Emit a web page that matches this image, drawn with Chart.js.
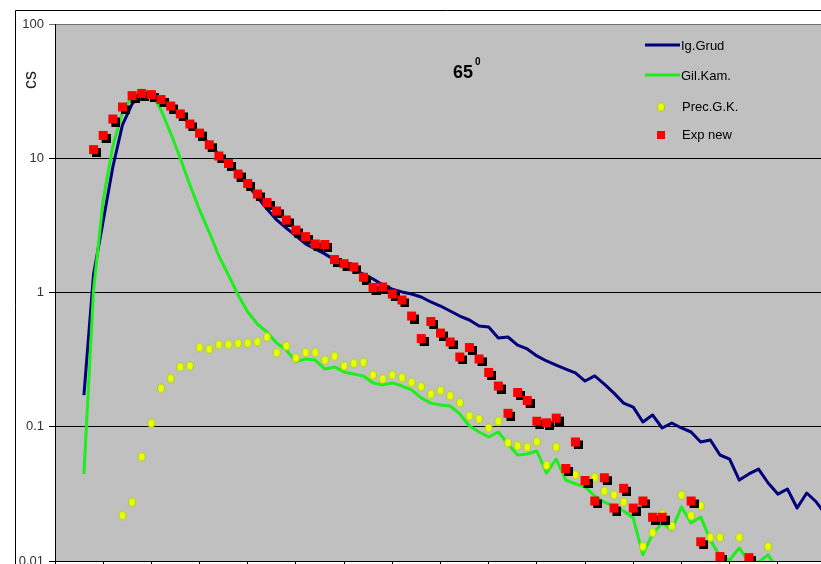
<!DOCTYPE html>
<html>
<head>
<meta charset="utf-8">
<title>cs 65</title>
<script src="https://cdn.jsdelivr.net/npm/chart.js@4.4.1/dist/chart.umd.min.js"></script>
<style>
  html, body { margin: 0; padding: 0; background: #fff; overflow: hidden; }
  .wrap { position: absolute; left: 0; top: 0; width: 880px; height: 600px; }
</style>
</head>
<body>
<div class="wrap"><canvas id="csChart" width="880" height="600"></canvas></div>
<script>
// calculated curves share one x grid
var energy = [0.6, 0.8, 1.0, 1.2, 1.4, 1.6, 1.8, 2.0, 2.2, 2.4,
              2.6, 2.8, 3.0, 3.2, 3.4, 3.6, 3.8, 4.0, 4.2, 4.4,
              4.6, 4.8, 5.0, 5.2, 5.4, 5.6, 5.8, 6.0, 6.2, 6.4,
              6.6, 6.8, 7.0, 7.2, 7.4, 7.6, 7.8, 8.0, 8.2, 8.4,
              8.6, 8.8, 9.0, 9.2, 9.4, 9.6, 9.8, 10.0, 10.2, 10.4,
              10.6, 10.8, 11.0, 11.2, 11.4, 11.6, 11.8, 12.0, 12.2, 12.4,
              12.6, 12.8, 13.0, 13.2, 13.4, 13.6, 13.8, 14.0, 14.2, 14.4,
              14.6, 14.8, 15.0, 15.2, 15.4, 15.6, 15.8, 16.0];

var grudCs = [0.172, 1.37, 3.41, 8.61, 17.7, 25.4, 30.1, 30.6, 27.6, 24.1,
              21.0, 18.0, 15.2, 12.8, 10.6, 9.06, 7.77, 6.32, 5.14, 4.19,
              3.47, 3.02, 2.64, 2.30, 2.11, 1.94, 1.75, 1.58, 1.47, 1.37,
              1.26, 1.14, 1.06, 1.01, 0.975, 0.926, 0.850, 0.793, 0.728, 0.668,
              0.624, 0.563, 0.553, 0.458, 0.466, 0.406, 0.380, 0.337, 0.309, 0.288,
              0.269, 0.252, 0.219, 0.239, 0.208, 0.178, 0.150, 0.140, 0.1085, 0.1224,
              0.0979, 0.1067, 0.0979, 0.0914, 0.0770, 0.0797, 0.0616, 0.0575, 0.0401, 0.0445,
              0.0484, 0.0381, 0.0315, 0.0344, 0.0248, 0.0321, 0.0275, 0.0220];

var kamCs = [0.0445, 1.04, 4.89, 12.3, 22.1, 29.1, 32.2, 30.6, 22.9, 15.4,
             10.0, 6.32, 4.12, 2.82, 1.87, 1.35, 0.958, 0.716, 0.582, 0.508,
             0.421, 0.373, 0.304, 0.320, 0.314, 0.269, 0.279, 0.256, 0.247, 0.239,
             0.212, 0.205, 0.212, 0.201, 0.188, 0.164, 0.150, 0.145, 0.143, 0.1245,
             0.1013, 0.0914, 0.0839, 0.0914, 0.0744, 0.0616, 0.0627, 0.066, 0.0452, 0.0575,
             0.0401, 0.0375, 0.0356, 0.0305, 0.0275, 0.0257, 0.0236, 0.0209, 0.0111, 0.0159,
             0.0192, 0.0170, 0.0253, 0.0192, 0.0213, 0.0143, 0.0109, 0.0102, 0.0125, 0.0098,
             0.0098, 0.0111, 0.0086];

var precX = [1.4, 1.6, 1.8, 2.0, 2.2, 2.4, 2.6, 2.8, 3.0, 3.2,
             3.4, 3.6, 3.8, 4.0, 4.2, 4.4, 4.6, 4.8, 5.0, 5.2,
             5.4, 5.6, 5.8, 6.0, 6.2, 6.4, 6.6, 6.8, 7.0, 7.2,
             7.4, 7.6, 7.8, 8.0, 8.2, 8.4, 8.6, 8.8, 9.0, 9.2,
             9.4, 9.6, 9.8, 10.0, 10.2, 10.4, 10.8, 11.2, 11.4, 11.6,
             11.8, 12.2, 12.4, 12.6, 12.8, 13.0, 13.2, 13.4, 13.6, 13.8,
             14.2, 14.8];
var precCs = [0.0218, 0.0274, 0.0598, 0.106, 0.193, 0.229, 0.279, 0.284, 0.389, 0.378,
              0.409, 0.410, 0.417, 0.421, 0.430, 0.466, 0.356, 0.400, 0.325, 0.357,
              0.358, 0.314, 0.335, 0.284, 0.297, 0.302, 0.243, 0.227, 0.243, 0.232,
              0.214, 0.199, 0.175, 0.186, 0.170, 0.151, 0.120, 0.114, 0.098, 0.110,
              0.0761, 0.0722, 0.0707, 0.0774, 0.0516, 0.0707, 0.0439, 0.0420, 0.0332, 0.0310,
              0.0275, 0.0128, 0.0163, 0.0223, 0.0182, 0.0310, 0.0218, 0.0258, 0.0150, 0.0150,
              0.0150, 0.0128];

var expX = [0.8, 1.0, 1.2, 1.4, 1.6, 1.8, 2.0, 2.2, 2.4, 2.6,
            2.8, 3.0, 3.2, 3.4, 3.6, 3.8, 4.0, 4.2, 4.4, 4.6,
            4.8, 5.0, 5.2, 5.4, 5.6, 5.8, 6.0, 6.2, 6.4, 6.6,
            6.8, 7.0, 7.2, 7.4, 7.6, 7.8, 8.0, 8.2, 8.4, 8.6,
            8.8, 9.0, 9.2, 9.4, 9.6, 9.8, 10.0, 10.2, 10.4, 10.6,
            10.8, 11.0, 11.2, 11.4, 11.6, 11.8, 12.0, 12.2, 12.4, 12.6,
            13.2, 13.4, 13.8, 14.4];
var expCs = [11.6, 14.8, 19.6, 24.1, 29.3, 30.4, 29.8, 27.4, 24.5, 21.4,
             18.0, 15.4, 12.6, 10.4, 9.14, 7.63, 6.48, 5.42, 4.68, 4.05,
             3.47, 2.92, 2.61, 2.30, 2.28, 1.76, 1.64, 1.55, 1.30, 1.09,
             1.10, 0.975, 0.88, 0.668, 0.454, 0.608, 0.499, 0.428, 0.331, 0.389,
             0.320, 0.254, 0.201, 0.126, 0.180, 0.157, 0.110, 0.107, 0.116, 0.0489,
             0.077, 0.0398, 0.028, 0.0417, 0.0248, 0.0348, 0.0248, 0.028, 0.0212, 0.0212,
             0.028, 0.0139, 0.0108, 0.0106];

var decades = [0.01, 0.1, 1, 10, 100];
var seriesNames = ["Ig.Grud", "Gil.Kam.", "Prec.G.K.", "Exp new"];

function pairs(xs, ys) {
    return ys.map(function(y, i) { return {x: xs[i], y: y}; });
}

// red square with a black drop shadow
var squareImg = document.createElement("canvas");
squareImg.width = 15;
squareImg.height = 15;
var sq = squareImg.getContext("2d");
sq.fillStyle = "#000";
sq.fillRect(6, 6, 9, 9);
sq.fillStyle = "#ff0000";
sq.fillRect(3, 3, 9, 9);

// small yellow oval
var dotImg = document.createElement("canvas");
dotImg.width = 10;
dotImg.height = 12;
var dt = dotImg.getContext("2d");
dt.beginPath();
dt.ellipse(5, 6, 3.4, 4.2, 0, 0, Math.PI * 2);
dt.fillStyle = "#eeff00";
dt.fill();
dt.lineWidth = 1;
dt.strokeStyle = "#9ccc30";
dt.stroke();

var decorPlugin = {
    id: "decor",
    beforeDraw: function(chart) {
        var c = chart.ctx;
        var a = chart.chartArea;
        c.save();
        c.fillStyle = "#fff";
        c.fillRect(0, 0, chart.width, chart.height);
        c.strokeStyle = "#000";
        c.lineWidth = 1;
        c.beginPath();
        c.moveTo(15.5, chart.height);
        c.lineTo(15.5, 10.5);
        c.lineTo(chart.width, 10.5);
        c.stroke();
        c.fillStyle = "#c0c0c0";
        c.fillRect(a.left, a.top, a.right - a.left, a.bottom - a.top);
        c.restore();
    },
    afterDraw: function(chart) {
        var c = chart.ctx;
        var ds = chart.data.datasets;
        c.save();

        // axis title
        c.save();
        c.translate(31, 80);
        c.rotate(-Math.PI / 2);
        c.font = "18px Arial";
        c.fillStyle = "#222";
        c.textAlign = "center";
        c.textBaseline = "middle";
        c.fillText("cs", 0, 0);
        c.restore();

        // angle caption
        c.fillStyle = "#000";
        c.textBaseline = "alphabetic";
        c.textAlign = "left";
        c.font = "bold 18px Arial";
        c.fillText("65", 453, 78);
        c.font = "bold 10px Arial";
        c.fillText("0", 475, 65);

        // legend
        c.font = "13px Arial";
        c.textBaseline = "middle";
        var rows = [45, 75, 107, 135];
        for (var i = 0; i < 2; i++) {
            c.strokeStyle = ds[i].borderColor;
            c.lineWidth = 3;
            c.beginPath();
            c.moveTo(645, rows[i]);
            c.lineTo(680, rows[i]);
            c.stroke();
            c.fillText(ds[i].label, 681, rows[i] + 1);
        }
        c.drawImage(dotImg, 656, rows[2] - 6);
        c.fillText(ds[2].label, 682, rows[2]);
        c.fillStyle = "#ff0000";
        c.fillRect(657, rows[3] - 4, 8, 8);
        c.fillStyle = "#000";
        c.fillText(ds[3].label, 682, rows[3]);
        c.restore();
    }
};

var ctx = document.getElementById("csChart");
var csChart = new Chart(ctx, {
    type: "scatter",
    data: {
        datasets: [
            {
                label: seriesNames[0],
                data: pairs(energy, grudCs),
                showLine: true,
                borderColor: "#00007a",
                borderWidth: 3,
                borderJoinStyle: "round",
                pointRadius: 0,
                order: 4
            },
            {
                label: seriesNames[1],
                data: pairs(energy, kamCs),
                showLine: true,
                borderColor: "#1eee1e",
                borderWidth: 3,
                borderJoinStyle: "round",
                pointRadius: 0,
                order: 3
            },
            {
                label: seriesNames[2],
                data: pairs(precX, precCs),
                showLine: false,
                pointStyle: dotImg,
                order: 2
            },
            {
                label: seriesNames[3],
                data: pairs(expX, expCs),
                showLine: false,
                pointStyle: squareImg,
                order: 1
            }
        ]
    },
    options: {
        responsive: false,
        animation: false,
        devicePixelRatio: 1,
        layout: { padding: { left: 0, top: 24, right: 54, bottom: 0 } },
        plugins: {
            legend: { display: false },
            tooltip: { enabled: false }
        },
        scales: {
            x: {
                type: "linear",
                min: 0,
                max: 16,
                ticks: { display: false, stepSize: 1 },
                grid: { drawOnChartArea: false, drawTicks: true, tickLength: 6, color: "#000" },
                border: { display: true, color: "#000", width: 1 },
                afterFit: function(s) { s.height = 39; }
            },
            y: {
                type: "logarithmic",
                min: 0.01,
                max: 100,
                afterBuildTicks: function(s) {
                    s.ticks = decades.map(function(v) { return {value: v}; });
                },
                ticks: {
                    callback: function(v) { return String(v); },
                    font: { family: "Arial", size: 13 },
                    color: "#333",
                    padding: 5
                },
                grid: {
                    color: function(g) { return g.tick && g.tick.value === 100 ? "#707070" : "#000"; },
                    tickLength: 6
                },
                border: { display: true, color: "#000", width: 1 },
                afterFit: function(s) { s.width = 55; }
            }
        }
    },
    plugins: [decorPlugin]
});
</script>
</body>
</html>
